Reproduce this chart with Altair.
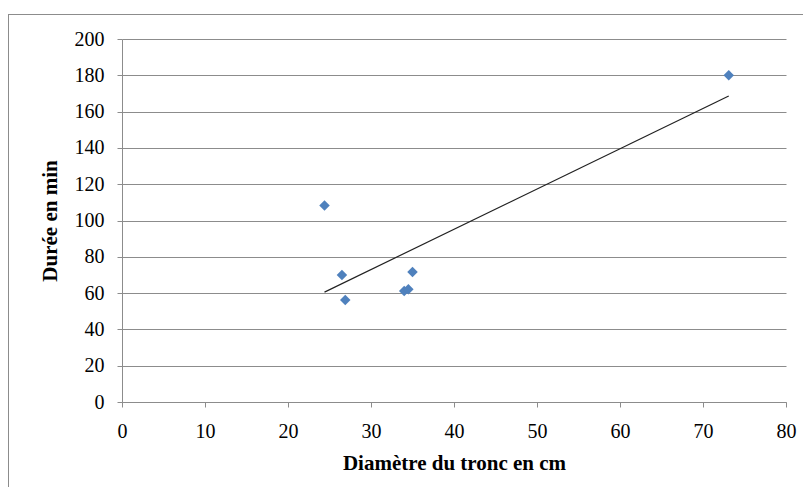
import altair as alt
import pandas as pd

diametre = [24.4, 26.5, 26.9, 34.0, 34.5, 35.0, 73.1]
duree = [108.2, 70.0, 56.2, 61.2, 62.1, 71.6, 180.0]
x_ticks = [0, 10, 20, 30, 40, 50, 60, 70, 80]
y_ticks = [0, 20, 40, 60, 80, 100, 120, 140, 160, 180, 200]

df = pd.DataFrame({"d": diametre, "t": duree})

FONT = "Liberation Serif"
GRAY = "#8c8c8c"

xenc = alt.X("d:Q", scale=alt.Scale(domain=[0, 80], nice=False),
             axis=alt.Axis(values=x_ticks, title="Diamètre du tronc en cm", grid=False,
                           domainColor=GRAY, tickColor=GRAY, tickSize=5, labelOverlap=False,
                           labelFlush=False,
                           labelFont=FONT, labelFontSize=20, labelColor="#000",
                           labelPadding=14, titleFont=FONT, titleFontSize=21,
                           titleFontWeight="bold", titleColor="#000", titlePadding=11))
yenc = alt.Y("t:Q", scale=alt.Scale(domain=[0, 200], nice=False),
             axis=alt.Axis(values=y_ticks, tickCount=11, title="Durée en min", grid=True, gridColor=GRAY,
                           domainColor=GRAY, tickColor=GRAY, tickSize=5, labelOverlap=False,
                           labelFlush=False,
                           labelFont=FONT, labelFontSize=20, labelColor="#000",
                           labelPadding=13, titleFont=FONT, titleFontSize=21,
                           titleFontWeight="bold", titleColor="#000", titlePadding=14))

border = alt.Chart(df).mark_rect(fill=None, stroke=GRAY, strokeWidth=1, clip=False).encode(
    x=alt.value(-113.5), x2=alt.value(720), y=alt.value(-24.5), y2=alt.value(500)
)

pts = alt.Chart(df).mark_point(shape="diamond", filled=True, color="#4f81bd", size=110, opacity=1).encode(
    x=xenc, y=yenc
)

trend = alt.Chart(df).transform_regression("d", "t").mark_line(color="#222222", strokeWidth=1.2).encode(
    x=xenc, y=yenc
)

chart = alt.layer(border, trend, pts).properties(
    width=664, height=363,
    autosize=alt.AutoSizeParams(type="none"),
    padding={"left": 114, "top": 31, "right": 17, "bottom": 85},
).configure_view(stroke=None)

chart.save("out.html", embed_options={"renderer": "svg", "actions": False})
